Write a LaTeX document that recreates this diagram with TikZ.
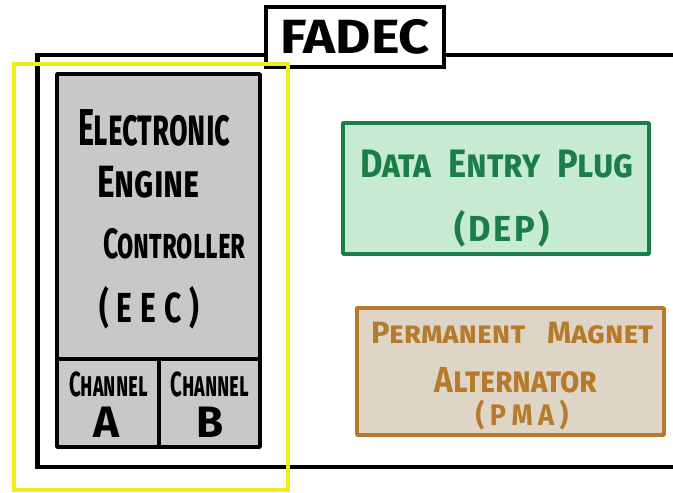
\documentclass[tikz,border=0pt]{standalone}
\usepackage{fontspec}
\usepackage{graphicx}
\setmainfont{Fira Sans}
\definecolor{eecfill}{HTML}{C8C8C8}
\definecolor{depfill}{HTML}{C6EBD2}
\definecolor{depline}{HTML}{1B7E48}
\definecolor{pmafill}{HTML}{DFD5C6}
\definecolor{pmaline}{HTML}{B67A2C}
\definecolor{hiyellow}{HTML}{F5EA1A}
\tikzset{
  frame/.style={line width=4.5pt},
  boxline/.style={line width=3.5pt, line join=round},
  hand/.style={inner sep=0pt, anchor=base west},
}
\newcommand{\hf}[1]{\fontsize{#1}{#1}\selectfont\bfseries\scshape}
\newcommand{\tall}[2]{\scalebox{1}[#1]{#2}}
\begin{document}
\begin{tikzpicture}[x=1pt,y=-1pt]
\useasboundingbox (0,0) rectangle (673,493);
% FADEC label
\node[draw, line width=4pt, minimum width=178pt, minimum height=60pt, font=\fontsize{48}{48}\selectfont\bfseries, inner sep=0pt] (fadec) at (355,36.5) {\scalebox{1.13}[1]{FADEC}};
% outer frame
\coordinate (tl) at (37.5,55);
\coordinate (bl) at (37.5,467);
\coordinate (br) at (676,467);
\coordinate (tr) at (676,55);
\draw[frame] (fadec.west |- tl) -- (tl) -- (bl) -- (br);
\draw[frame] (fadec.east |- tr) -- (tr);
% EEC
\draw[boxline, fill=eecfill] (57,74) rectangle (260,447);
\coordinate (dl) at (57,359);
\coordinate (dr) at (260,359);
\draw[boxline] (dl) -- (dr);
\coordinate (vt) at (159,359);
\coordinate (vb) at (159,447);
\draw[boxline] (vt) -- (vb);
\node[hand, font=\hf{30.5}] (e1) at (78,145) {\tall{1.7}{Electronic}};
\node[hand, font=\hf{33.5}] (e2) at (97,197) {\tall{1.35}{Engine}};
\node[hand, font=\hf{26.5}] (e3) at (103,258) {\tall{1.6}{Controller}};
\node[hand, font=\hf{30}] (e4) at (99,322) {\tall{1.4}{(\hspace{8pt}E\hspace{8pt}E\hspace{8pt}C\hspace{8pt})}};
\node[hand, font=\hf{20.5}, anchor=base] (cha) at (108.5,396) {\tall{1.7}{Channel}};
\node[hand, font=\fontsize{44}{44}\selectfont\bfseries, anchor=base] (a) at (106,437) {A};
\node[hand, font=\hf{20.5}, anchor=base] (chb) at (210,396) {\tall{1.7}{Channel}};
\node[hand, font=\fontsize{44}{44}\selectfont\bfseries, anchor=base] (b) at (210,437) {B};
% yellow highlight
\draw[line width=4.5pt, draw=hiyellow] (14,64) rectangle (288,490);
% DEP
\draw[boxline, draw=depline, fill=depfill] (343,123) rectangle (649,254);
\node[hand, text=depline, font=\hf{34.5}, anchor=base] (dep1) at (497,177) {\tall{1.15}{Data\enspace Entry\enspace Plug}};
\node[hand, text=depline, font=\hf{34.5}, anchor=base] (dep2) at (502,241) {\tall{1.05}{(\hspace{3pt}D\hspace{3pt}E\hspace{3pt}P\hspace{3pt})}};
% PMA
\draw[boxline, draw=pmaline, fill=pmafill] (357,308) rectangle (664,435);
\node[hand, text=pmaline, font=\hf{30.8}, anchor=base] (pma1) at (512,343) {Permanent\hspace{22pt}Magnet};
\node[hand, text=pmaline, font=\hf{31.4}, anchor=base] (pma2) at (516,392) {\tall{1.15}{Alternator}};
\node[hand, text=pmaline, font=\hf{27}, anchor=base] (pma3) at (522,425) {\tall{1.1}{(\hspace{5.5pt}P\hspace{5.5pt}M\hspace{5.5pt}A\hspace{5.5pt})}};
\end{tikzpicture}
\end{document}
